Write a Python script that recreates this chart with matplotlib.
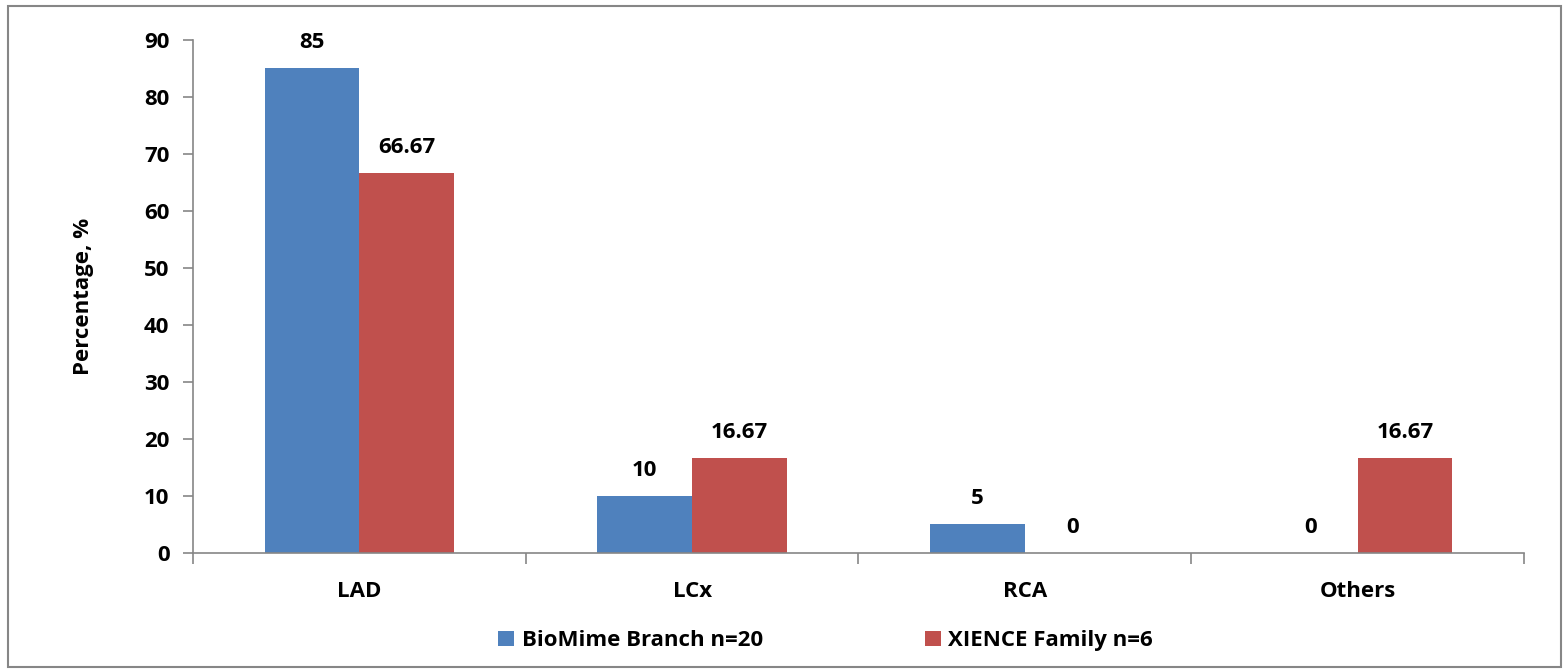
import matplotlib.pyplot as plt
import numpy as np
from matplotlib.patches import Rectangle

# Chart data
categories   = ["LAD", "LCx", "RCA", "Others"]
biomime      = [85, 10, 5, 0]
xience       = [66.67, 16.67, 0, 16.67]
biomime_text = ["85", "10", "5", "0"]
xience_text  = ["66.67", "16.67", "0", "16.67"]
series_names = ["BioMime Branch n=20", "XIENCE Family n=6"]

plt.rcParams["font.family"] = ["Open Sans", "DejaVu Sans"]
plt.rcParams["font.weight"] = "bold"

blue  = "#4F81BD"
red   = "#C0504D"
spine = "#868686"
fs    = 16

fig = plt.figure(figsize=(15.64, 6.71), dpi=100)
ax  = fig.add_axes([0.1234, 0.1759, 0.851, 0.7645])

x     = np.arange(len(categories))
width = 0.285

b1 = ax.bar(x - width / 2, biomime, width, color=blue, label=series_names[0])
b2 = ax.bar(x + width / 2, xience,  width, color=red,  label=series_names[1])

# value labels above each bar
for bars, texts in ((b1, biomime_text), (b2, xience_text)):
    for bar, txt in zip(bars, texts):
        ax.annotate(txt, (bar.get_x() + bar.get_width() / 2, bar.get_height()),
                    xytext=(0, 11), textcoords="offset points",
                    ha="center", va="bottom", fontsize=fs, fontweight="bold")

ax.set_xlim(-0.5, len(categories) - 0.5)
ax.set_ylim(0, 90)
ax.set_yticks(np.arange(0, 91, 10))
ax.set_xticks(np.arange(-0.5, len(categories), 1.0))
ax.set_xticklabels([])
ax.set_xticks(x, minor=True)
ax.set_xticklabels(categories, minor=True)

ax.tick_params(axis="y", length=7, color=spine, width=1.2, labelsize=fs, pad=10)
ax.tick_params(axis="x", which="major", length=8, color=spine, width=1.2)
ax.tick_params(axis="x", which="minor", length=0, labelsize=fs, pad=20)

for name in ("top", "right"):
    ax.spines[name].set_visible(False)
for name in ("left", "bottom"):
    ax.spines[name].set_color(spine)
    ax.spines[name].set_linewidth(1.2)

ax.set_ylabel("Percentage, %", fontsize=fs, fontweight="bold", labelpad=36)

fig.legend(handles=[b1, b2], loc="center", bbox_to_anchor=(0.528, 0.045),
           ncol=2, frameon=False, fontsize=fs, columnspacing=7.3,
           handlelength=0.7, handleheight=0.7, handletextpad=0.35)

fig.patches.append(Rectangle((0.0051, 0.006), 0.993, 0.985, transform=fig.transFigure,
                             fill=False, edgecolor=spine, linewidth=1.5))

fig.savefig("out.png", dpi=100)
